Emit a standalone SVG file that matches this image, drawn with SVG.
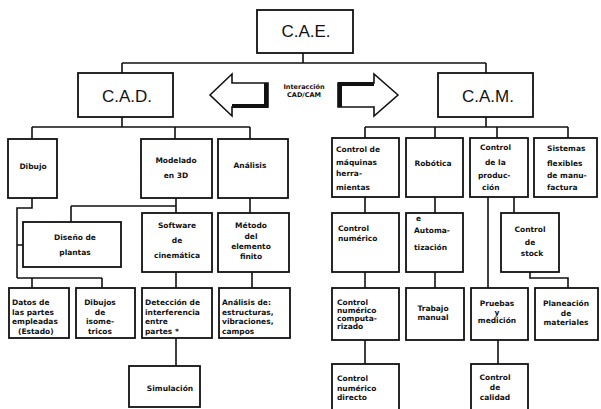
<svg xmlns="http://www.w3.org/2000/svg" width="601" height="409" viewBox="0 0 601 409">
  <style>
    .box { fill: #fff; stroke: #111; stroke-width: 1.8; }
    .wire { fill: none; stroke: #111; stroke-width: 1.6; }
    .big { font-family: "Liberation Sans", Arial, sans-serif; font-size: 17px; fill: #111; text-anchor: middle; }
    .lbl { font-family: "DejaVu Sans", sans-serif; font-weight: bold; font-size: 7.5px; fill: #111; }
    .mid { text-anchor: middle; }
    .arrow { fill: #fff; stroke: #111; stroke-width: 1.6; stroke-linejoin: miter; }
    .shade { stroke: #111; stroke-width: 4; fill: none; }
  </style>
  <rect width="601" height="409" fill="#fff"/>

  <!-- connectors -->
  <g id="connectors">
    <path class="wire" d="M303 53V63M122 63H486M122 63V73M486 63V73"/>
    <path class="wire" d="M122 117V127M32 127H250M32 127V139M175 127V139M250 127V139"/>
    <path class="wire" d="M32 198V208H17V278M17 245H23M17 278H102M32 278V288M102 278V288"/>
    <path class="wire" d="M176 198V213M71 206H176M71 206V222"/>
    <path class="wire" d="M250 198V213"/>
    <path class="wire" d="M176 272V288M252 272V288M176 338V366"/>
    <path class="wire" d="M486 117V127M365 127H568M365 127V138M435 127V138M497 127V138M568 127V138"/>
    <path class="wire" d="M365 197V213M435 197V213M514 197V213M488 197V288"/>
    <path class="wire" d="M530 272V278H568V288"/>
    <path class="wire" d="M365 272V288M435 272V288M365 340V364M498 340V364"/>
  </g>

  <!-- top level -->
  <g id="cae">
    <rect class="box" x="257" y="10" width="96" height="43"/>
    <text class="big" x="306" y="37">C.A.E.</text>
  </g>
  <g id="cad">
    <rect class="box" x="78" y="73" width="95" height="44"/>
    <text class="big" x="127" y="102">C.A.D.</text>
  </g>
  <g id="cam">
    <rect class="box" x="438" y="73" width="95" height="44"/>
    <text class="big" x="488" y="102">C.A.M.</text>
  </g>

  <!-- CAD/CAM interaction arrows -->
  <g id="interaccion">
    <polygon class="arrow" points="210,95 232,74 232,83 268,83 268,107 232,107 232,116"/>
    <path class="shade" d="M266 83V107M232 106H268"/>
    <polygon class="arrow" points="398,95 374,74 374,83 338,83 338,107 374,107 374,116"/>
    <path class="shade" d="M340 83V107M338 84H374"/>
    <text class="lbl mid" x="304" y="89" style="font-size:6.5px">Interacción</text>
    <text class="lbl mid" x="304" y="97" style="font-size:6.5px">CAD/CAM</text>
  </g>

  <!-- CAD branch -->
  <g id="dibujo">
    <rect class="box" x="8" y="139" width="49" height="59"/>
    <text class="lbl mid" x="33" y="169">Dibujo</text>
  </g>
  <g id="modelado">
    <rect class="box" x="141" y="139" width="71" height="59"/>
    <text class="lbl mid" x="176" y="163">Modelado</text>
    <text class="lbl mid" x="176" y="178">en 3D</text>
  </g>
  <g id="analisis">
    <rect class="box" x="218" y="139" width="70" height="59"/>
    <text class="lbl mid" x="250" y="168">Análisis</text>
  </g>
  <g id="diseno-plantas">
    <rect class="box" x="23" y="222" width="98" height="45"/>
    <text class="lbl mid" x="75" y="240">Diseño de</text>
    <text class="lbl mid" x="75" y="255">plantas</text>
  </g>
  <g id="software-cinematica">
    <rect class="box" x="142" y="213" width="70" height="59"/>
    <text class="lbl mid" x="177" y="228">Software</text>
    <text class="lbl mid" x="177" y="243">de</text>
    <text class="lbl mid" x="177" y="258">cinemática</text>
  </g>
  <g id="metodo-elemento-finito">
    <rect class="box" x="218" y="213" width="71" height="59"/>
    <text class="lbl mid" x="251" y="228">Método</text>
    <text class="lbl mid" x="251" y="239">del</text>
    <text class="lbl mid" x="251" y="249">elemento</text>
    <text class="lbl mid" x="251" y="259">finito</text>
  </g>
  <g id="datos-partes">
    <rect class="box" x="9" y="288" width="60" height="50"/>
    <text class="lbl" x="12" y="305">Datos de</text>
    <text class="lbl" x="12" y="315">las partes</text>
    <text class="lbl" x="12" y="324">empleadas</text>
    <text class="lbl" x="18" y="334">(Estado)</text>
  </g>
  <g id="dibujos-isometricos">
    <rect class="box" x="76" y="288" width="59" height="50"/>
    <text class="lbl mid" x="100" y="305">Dibujos</text>
    <text class="lbl mid" x="100" y="315">de</text>
    <text class="lbl mid" x="100" y="324">isome-</text>
    <text class="lbl mid" x="100" y="334">tricos</text>
  </g>
  <g id="deteccion-interferencia">
    <rect class="box" x="142" y="288" width="70" height="50"/>
    <text class="lbl" x="145" y="305">Detección de</text>
    <text class="lbl" x="145" y="315">interferencia</text>
    <text class="lbl" x="145" y="324">entre</text>
    <text class="lbl" x="145" y="334">partes *</text>
  </g>
  <g id="analisis-estructuras">
    <rect class="box" x="219" y="288" width="71" height="50"/>
    <text class="lbl" x="222" y="305">Análisis de:</text>
    <text class="lbl" x="222" y="315">estructuras,</text>
    <text class="lbl" x="222" y="324">vibraciones,</text>
    <text class="lbl" x="222" y="334">campos</text>
  </g>
  <g id="simulacion">
    <rect class="box" x="129" y="366" width="71" height="41"/>
    <text class="lbl mid" x="170" y="391">Simulación</text>
  </g>

  <!-- CAM branch -->
  <g id="control-maquinas">
    <rect class="box" x="332" y="138" width="67" height="59"/>
    <text class="lbl" x="336" y="152">Control de</text>
    <text class="lbl" x="336" y="165">máquinas</text>
    <text class="lbl" x="336" y="176">herra-</text>
    <text class="lbl" x="336" y="190">mientas</text>
  </g>
  <g id="robotica">
    <rect class="box" x="406" y="138" width="57" height="59"/>
    <text class="lbl mid" x="433" y="166">Robótica</text>
  </g>
  <g id="control-produccion">
    <rect class="box" x="470" y="138" width="58" height="59"/>
    <text class="lbl" x="480" y="150">Control</text>
    <text class="lbl" x="485" y="165">de la</text>
    <text class="lbl" x="478" y="178">produc-</text>
    <text class="lbl" x="482" y="190">ción</text>
  </g>
  <g id="sistemas-flexibles">
    <rect class="box" x="534" y="138" width="63" height="59"/>
    <text class="lbl" x="547" y="151">Sistemas</text>
    <text class="lbl" x="547" y="166">flexibles</text>
    <text class="lbl" x="547" y="178">de manu-</text>
    <text class="lbl" x="547" y="190">factura</text>
  </g>
  <g id="control-numerico">
    <rect class="box" x="332" y="213" width="67" height="59"/>
    <text class="lbl" x="338" y="231">Control</text>
    <text class="lbl" x="338" y="241">numérico</text>
  </g>
  <g id="automatizacion">
    <rect class="box" x="406" y="213" width="57" height="59"/>
    <text class="lbl" x="416" y="221">e</text>
    <text class="lbl" x="414" y="233">Automa-</text>
    <text class="lbl" x="414" y="250">tización</text>
  </g>
  <g id="control-stock">
    <rect class="box" x="501" y="213" width="58" height="59"/>
    <text class="lbl mid" x="530" y="232">Control</text>
    <text class="lbl mid" x="530" y="245">de</text>
    <text class="lbl mid" x="532" y="256">stock</text>
  </g>
  <g id="cn-computarizado">
    <rect class="box" x="332" y="288" width="67" height="52"/>
    <text class="lbl" x="337" y="305">Control</text>
    <text class="lbl" x="337" y="313">numérico</text>
    <text class="lbl" x="337" y="321">computa-</text>
    <text class="lbl" x="337" y="329">rizado</text>
  </g>
  <g id="trabajo-manual">
    <rect class="box" x="406" y="288" width="58" height="52"/>
    <text class="lbl mid" x="433" y="311">Trabajo</text>
    <text class="lbl mid" x="433" y="320">manual</text>
  </g>
  <g id="pruebas-medicion">
    <rect class="box" x="471" y="288" width="57" height="52"/>
    <text class="lbl mid" x="497" y="306">Pruebas</text>
    <text class="lbl mid" x="497" y="315">y</text>
    <text class="lbl mid" x="497" y="323">medición</text>
  </g>
  <g id="planeacion-materiales">
    <rect class="box" x="535" y="288" width="63" height="52"/>
    <text class="lbl mid" x="566" y="306">Planeación</text>
    <text class="lbl mid" x="566" y="316">de</text>
    <text class="lbl mid" x="566" y="325">materiales</text>
  </g>
  <g id="cn-directo">
    <rect class="box" x="332" y="364" width="67" height="50"/>
    <text class="lbl" x="337" y="381">Control</text>
    <text class="lbl" x="337" y="391">numérico</text>
    <text class="lbl" x="337" y="400">directo</text>
  </g>
  <g id="control-calidad">
    <rect class="box" x="471" y="364" width="57" height="50"/>
    <text class="lbl mid" x="495" y="380">Control</text>
    <text class="lbl mid" x="495" y="390">de</text>
    <text class="lbl mid" x="495" y="400">calidad</text>
  </g>
</svg>
